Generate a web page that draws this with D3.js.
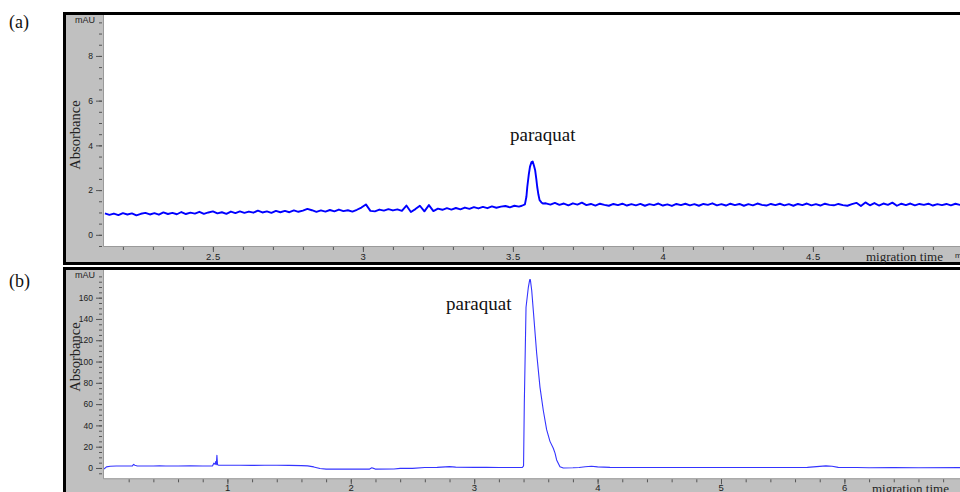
<!doctype html>
<html>
  <head>
    <script src="https://cdnjs.cloudflare.com/ajax/libs/d3/7.8.5/d3.min.js"></script>
    <style>
      body { margin: 0; background: #fff; }
      text { font-family: Arial, "Liberation Sans", sans-serif; }
      .serif { font-family: "Times New Roman", "Liberation Serif", serif; }
    </style>
  </head>
  <body>
    <svg></svg>
    <script>
      // panel (a): baseline samples every 0.015 min, split around the peak
      var aLeftStart = 2.14, aRightStart = 3.61, aStep = 0.015;
      var aLeftValues = [
        0.96, 0.89, 0.95, 0.88, 0.97, 0.91, 0.96, 0.87, 0.94, 0.98,
        0.91, 0.97, 0.90, 1.00, 0.93, 0.98, 0.92, 1.02, 0.93, 0.99,
        0.95, 1.03, 0.94, 1.00, 1.05, 0.96, 1.01, 0.94, 1.04, 0.97,
        1.05, 0.98, 1.04, 0.99, 1.08, 1.00, 1.05, 0.98, 1.07, 1.01,
        1.07, 1.01, 1.09, 1.03, 1.08, 1.16, 1.10, 1.03, 1.09, 1.04,
        1.11, 1.05, 1.13, 1.06, 1.10, 1.04, 1.12, 1.22, 1.36, 1.07,
        1.05, 1.13, 1.08, 1.15, 1.09, 1.14, 1.07, 1.31, 1.02, 1.15,
        1.30, 1.05, 1.33, 1.06, 1.17, 1.12, 1.19, 1.13, 1.20, 1.14,
        1.22, 1.16, 1.24, 1.18, 1.25, 1.19, 1.27, 1.21, 1.26, 1.29,
        1.23, 1.30, 1.26
      ];
      var aPeak = [
        [3.53, 1.30], [3.54, 1.36], [3.545, 1.70], [3.548, 2.15], [3.553, 2.70],
        [3.557, 3.05], [3.562, 3.25], [3.566, 3.28], [3.570, 3.10], [3.574, 2.90],
        [3.578, 2.50], [3.581, 2.15], [3.585, 1.80], [3.589, 1.55], [3.595, 1.45],
        [3.600, 1.40]
      ];
      var aRightValues = [
        1.41, 1.35, 1.43, 1.34, 1.40, 1.32, 1.41, 1.35, 1.44, 1.33,
        1.38, 1.31, 1.39, 1.34, 1.30, 1.38, 1.33, 1.39, 1.31, 1.37,
        1.32, 1.38, 1.30, 1.37, 1.33, 1.40, 1.31, 1.36, 1.29, 1.38,
        1.33, 1.39, 1.32, 1.37, 1.30, 1.38, 1.34, 1.41, 1.32, 1.37,
        1.31, 1.39, 1.33, 1.38, 1.30, 1.37, 1.32, 1.40, 1.34, 1.31,
        1.38, 1.33, 1.39, 1.32, 1.37, 1.30, 1.38, 1.33, 1.40, 1.32,
        1.37, 1.31, 1.39, 1.34, 1.32, 1.38, 1.33, 1.30, 1.37, 1.43,
        1.29, 1.45, 1.32, 1.42, 1.31, 1.40, 1.34, 1.44, 1.30, 1.39,
        1.33, 1.40, 1.32, 1.38, 1.34, 1.39, 1.31, 1.37, 1.33, 1.38,
        1.32, 1.39, 1.34, 1.31, 1.38, 1.33, 1.40, 1.32, 1.37, 1.34,
        1.39, 1.33, 1.38, 1.32, 1.37, 1.34, 1.38
      ];
      var aXMajor = [2.5, 3, 3.5, 4, 4.5];
      var aXMinor = d3.range(2.2, 5.25, 0.1);
      var aYMajor = [0, 2, 4, 6, 8];
      var aYMinor = d3.range(-0.5, 9.6, 0.5);

      // panel (b)
      var bTrace = [
        [0.0, -1.0], [0.02, 1.0], [0.05, 1.6], [0.1, 1.8], [0.2, 1.9], [0.23, 2.0],
        [0.24, 3.4], [0.25, 2.6], [0.27, 1.9], [0.4, 1.8], [0.45, 2.1], [0.5, 1.8],
        [0.6, 1.9], [0.7, 2.1], [0.8, 1.9], [0.88, 2.0], [0.89, 4.5], [0.9, 3.5],
        [0.905, 6.0], [0.91, 3.0], [0.915, 12.0], [0.92, 3.0], [0.93, 2.6], [1.0, 2.6],
        [1.1, 2.5], [1.2, 2.4], [1.3, 2.5], [1.4, 2.5], [1.5, 2.4], [1.6, 2.2],
        [1.65, 2.0], [1.7, 1.0], [1.75, -0.5], [1.8, -1.1], [2.0, -1.1], [2.15, -1.1],
        [2.17, 0.2], [2.19, -0.6], [2.2, -1.1], [2.35, -1.0], [2.4, -0.4], [2.5, -0.4],
        [2.6, 0.5], [2.7, 0.6], [2.8, 1.3], [2.85, 0.8], [3.0, 0.6], [3.1, 0.7],
        [3.2, 0.5], [3.3, 0.4], [3.39, 0.4], [3.40, 2], [3.406, 60], [3.42, 151],
        [3.439, 170], [3.45, 177], [3.455, 177], [3.466, 167], [3.479, 148], [3.506, 108],
        [3.533, 76], [3.56, 54], [3.587, 36], [3.614, 25], [3.641, 18.5], [3.655, 14],
        [3.668, 7.5], [3.695, 1.2], [3.722, 0], [3.8, 0.2], [3.85, 0.5], [3.9, 1.2],
        [3.95, 1.6], [4.0, 1.0], [4.1, 0.6], [4.5, 0.5], [5.0, 0.5], [5.5, 0.5],
        [5.7, 0.6], [5.8, 1.5], [5.85, 2.0], [5.9, 1.6], [5.95, 0.6], [6.1, 0.4],
        [6.2, 0.2], [6.4, 0.3], [6.6, 0.2], [7.0, 0.3], [7.2, 0.3]
      ];
      var bXMajor = [1, 2, 3, 4, 5, 6];
      var bXMinor = d3.range(0.2, 7.2, 0.2);
      var bYMajor = [0, 20, 40, 60, 80, 100, 120, 140, 160];
      var bYMinor = d3.range(-5, 181, 5);

      var aTrace = aLeftValues.map((v, i) => [aLeftStart + i * aStep, v])
        .concat(aPeak)
        .concat(aRightValues.map((v, i) => [aRightStart + i * aStep, v]));

      var width = 960, height = 492;
      var svg = d3.select("svg").attr("width", width).attr("height", height);
      var fmt = d3.format("~g");

      function drawPanel(p) {
        var g = svg.append("g");
        // outer frame
        g.append("rect")
          .attr("x", 64.5).attr("y", p.top)
          .attr("width", 960).attr("height", p.frameH)
          .attr("fill", "#c0c0c0").attr("stroke", "#000").attr("stroke-width", 3);
        // plot area
        g.append("rect")
          .attr("x", p.x.range()[0]).attr("y", p.y.range()[1])
          .attr("width", 960).attr("height", p.y.range()[0] - p.y.range()[1])
          .attr("fill", "#fff");
        g.append("path")
          .attr("d", "M" + (p.x.range()[0] - 0.5) + "," + p.y.range()[1] + "V" + (p.y.range()[0] + 0.5) + "H960")
          .attr("fill", "none").attr("stroke", "#9a9a9a").attr("stroke-width", 1);

        var left = p.x.range()[0] - 2;
        var yMin = g.append("g").attr("transform", "translate(" + left + ",0)")
          .call(d3.axisLeft(p.y).tickValues(p.yMinor).tickSize(3).tickFormat(""));
        var yMaj = g.append("g").attr("transform", "translate(" + left + ",0)")
          .call(d3.axisLeft(p.y).tickValues(p.yMajor).tickSize(6).tickPadding(3).tickFormat(fmt));
        var bottom = p.y.range()[0] + 1;
        var xMin = g.append("g").attr("transform", "translate(0," + bottom + ")")
          .call(d3.axisBottom(p.x).tickValues(p.xMinor).tickSize(3).tickFormat(""));
        var xMaj = g.append("g").attr("transform", "translate(0," + bottom + ")")
          .call(d3.axisBottom(p.x).tickValues(p.xMajor).tickSize(5).tickPadding(p.xPad).tickFormat(fmt));
        [yMin, yMaj, xMin, xMaj].forEach(a => {
          a.attr("font-family", null).attr("font-size", null);
          a.select(".domain").remove();
          a.selectAll("line").attr("stroke", "#555");
          a.selectAll("text").attr("fill", "#222");
        });
        yMaj.selectAll("text").style("font-size", "8.5px");
        xMaj.selectAll("text").style("font-size", "9.5px").style("letter-spacing", "0.5px");

        g.append("text").attr("x", 95).attr("y", p.y(p.mauAt)).attr("dy", "0.32em")
          .attr("text-anchor", "end").style("font-size", "9px").attr("fill", "#222").text("mAU");

        var clipId = "clip" + p.name;
        svg.append("clipPath").attr("id", clipId).append("rect")
          .attr("x", p.x.range()[0]).attr("y", p.y.range()[1])
          .attr("width", 960).attr("height", p.y.range()[0] - p.y.range()[1]);
        g.append("path").datum(p.trace)
          .attr("clip-path", "url(#" + clipId + ")")
          .attr("d", d3.line().x(d => p.x(d[0])).y(d => p.y(d[1])))
          .attr("fill", "none").attr("stroke", p.color).attr("stroke-width", p.lw)
          .attr("stroke-linejoin", "round");

        g.append("text").attr("class", "serif")
          .attr("transform", "translate(80," + p.absY + ") rotate(-90)")
          .attr("text-anchor", "middle").style("font-size", "14.5px").attr("fill", "#222").text("Absorbance");
        g.append("text").attr("class", "serif").attr("x", p.migX).attr("y", p.y.range()[0] + 15)
          .style("font-size", "13px").attr("fill", "#222").text("migration time");
        g.append("text").attr("x", p.migX + 89).attr("y", p.y.range()[0] + 12)
          .style("font-size", "8px").attr("fill", "#222").text("min");
        g.append("text").attr("class", "serif").attr("x", p.peakX).attr("y", p.peakY)
          .style("font-size", "19px").attr("fill", "#111").text("paraquat");
        g.append("text").attr("class", "serif").attr("x", 9).attr("y", p.labelY)
          .style("font-size", "18px").attr("fill", "#111").text(p.label);
      }

      drawPanel({
        name: "a", label: "(a)", labelY: 28, top: 13.5, frameH: 250,
        x: d3.scaleLinear().domain([2.137, 5.2]).range([104, 104 + 3.063 * 300]),
        y: d3.scaleLinear().domain([-0.5, 9.83]).range([246, 15]),
        xMajor: aXMajor, xMinor: aXMinor, yMajor: aYMajor, yMinor: aYMinor, xPad: 1,
        mauAt: 9.6, trace: aTrace, color: "#0000ff", lw: 1.9,
        absY: 135, migX: 866, peakX: 510, peakY: 141
      });
      drawPanel({
        name: "b", label: "(b)", labelY: 287, top: 268.5, frameH: 240,
        x: d3.scaleLinear().domain([0, 7.2]).range([104, 104 + 7.2 * 123.4]),
        y: d3.scaleLinear().domain([-9.7, 186]).range([478.3, 270]),
        xMajor: bXMajor, xMinor: bXMinor, yMajor: bYMajor, yMinor: bYMinor, xPad: 0,
        mauAt: 181.5, trace: bTrace, color: "#3434ff", lw: 1.1,
        absY: 357, migX: 872, peakX: 446, peakY: 310
      });
    </script>
  </body>
</html>
